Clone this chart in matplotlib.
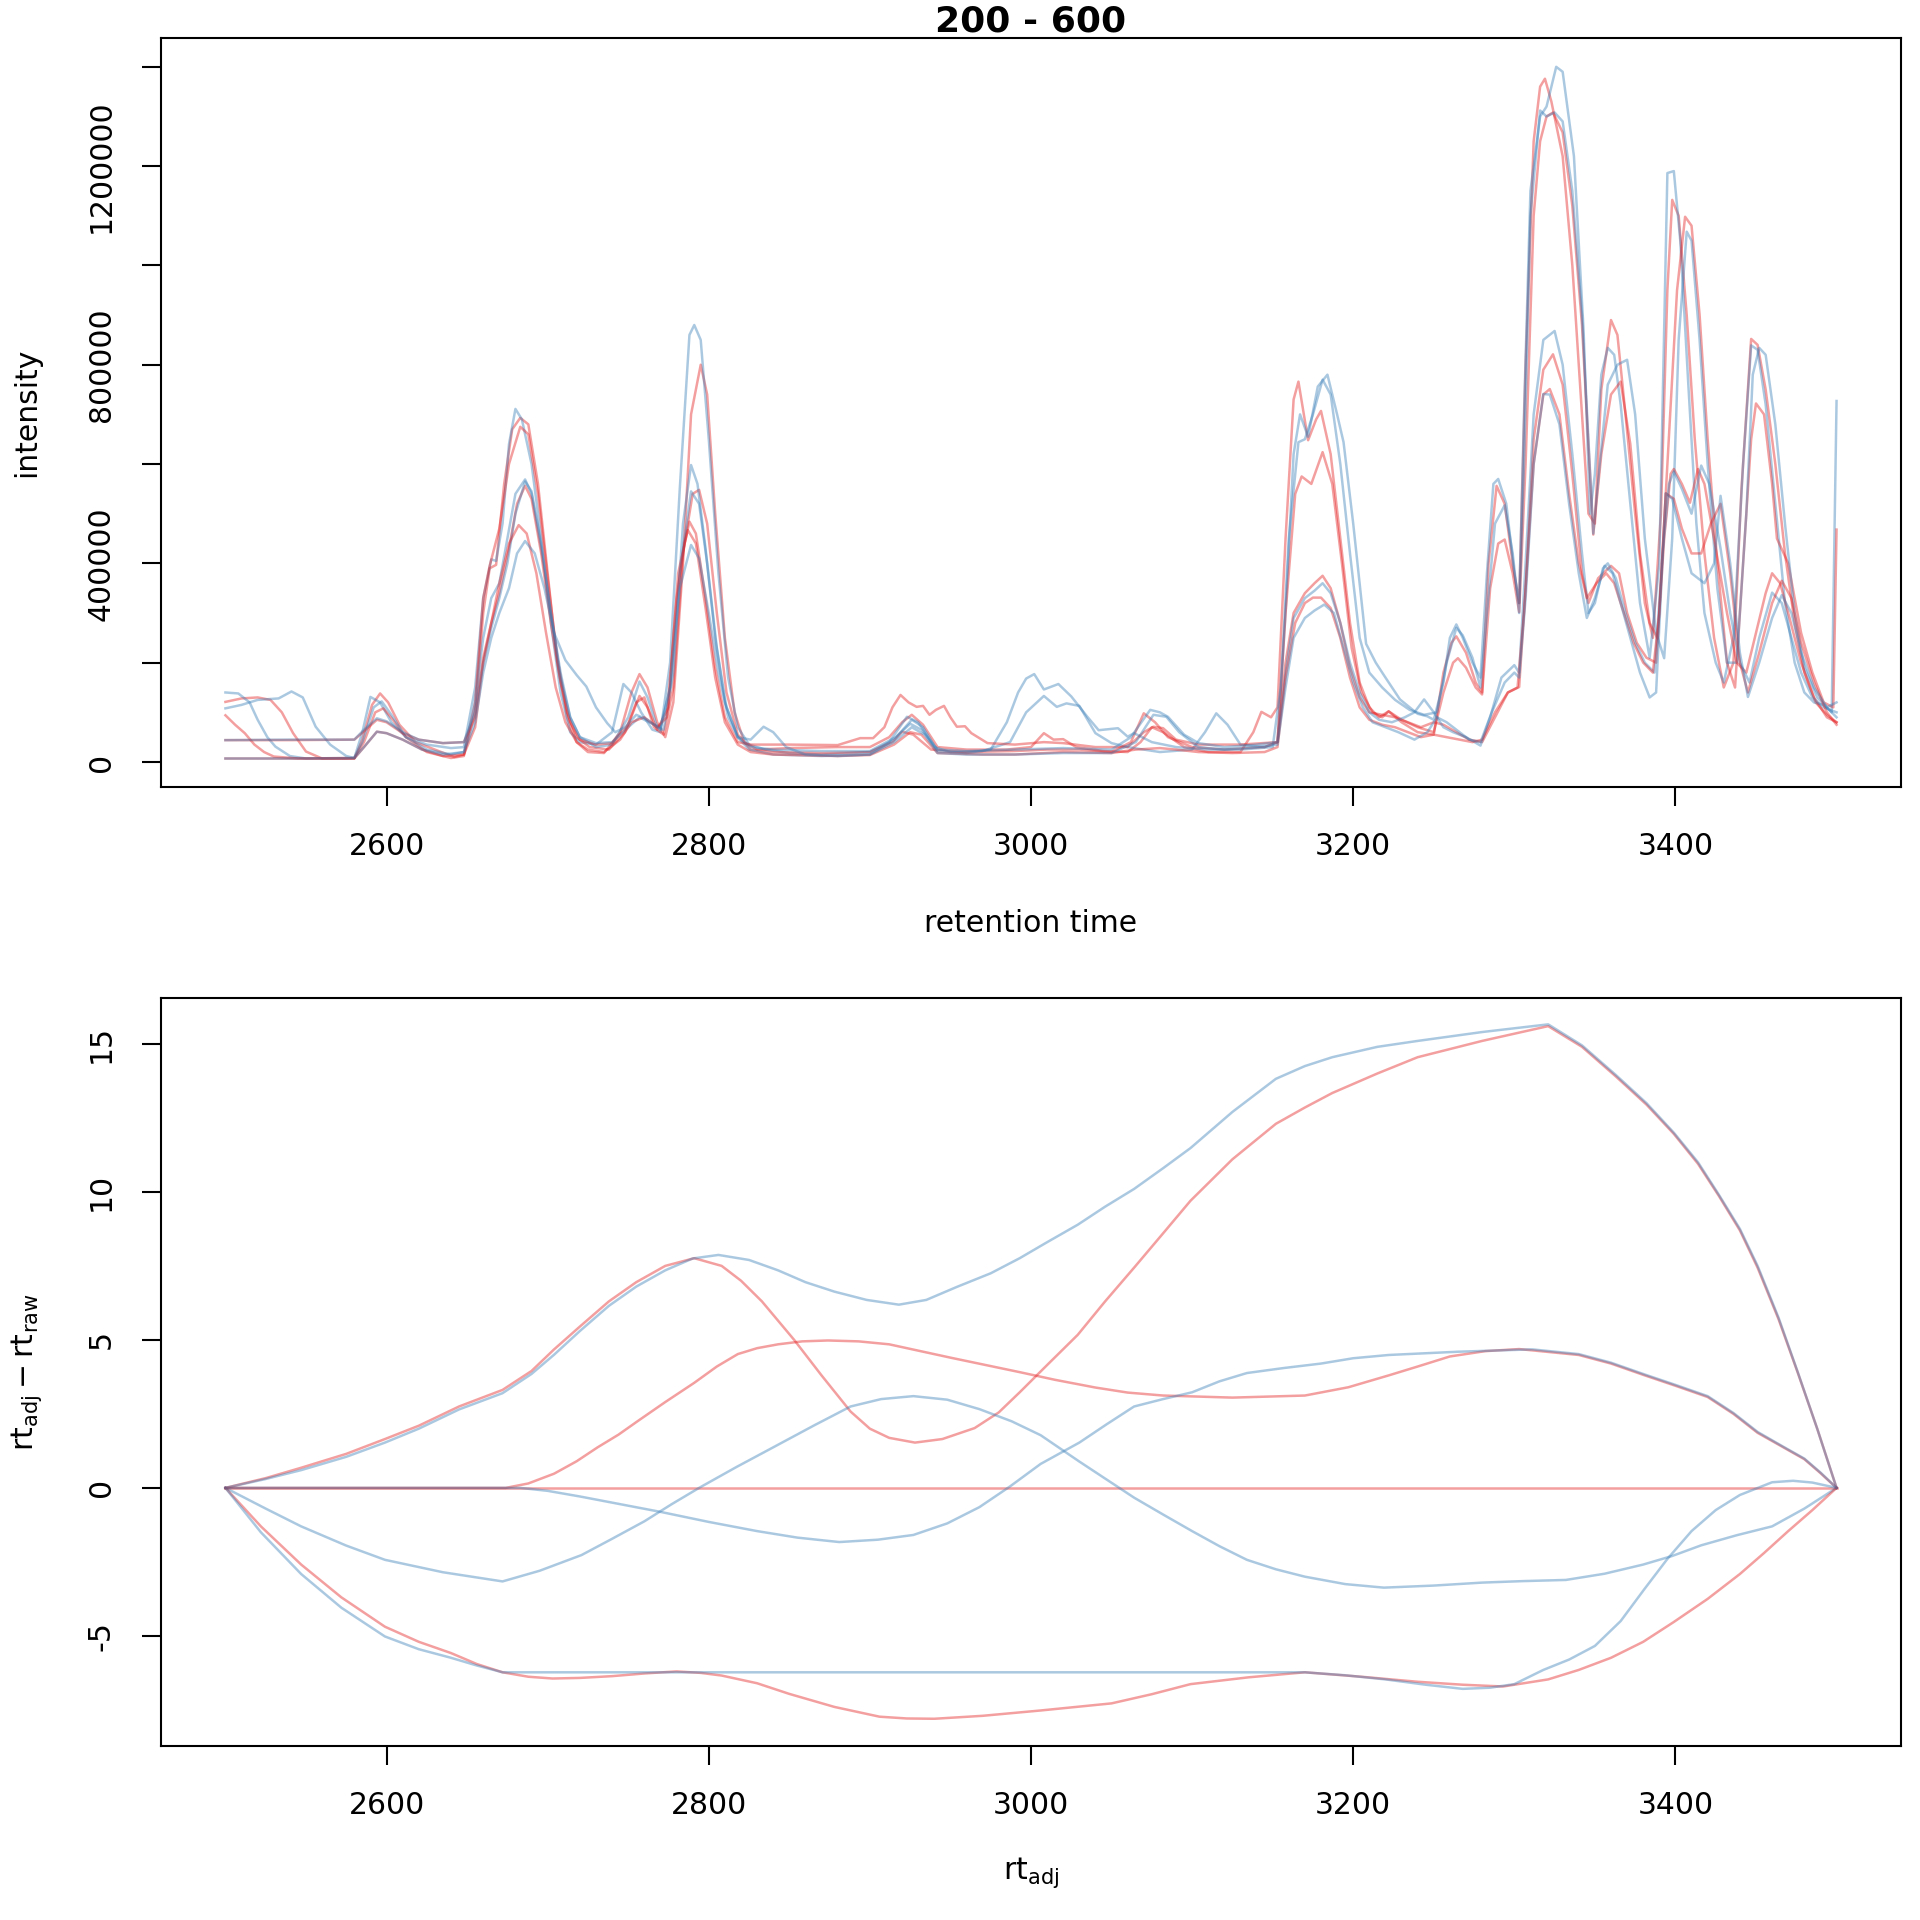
import matplotlib.pyplot as plt
import numpy as np

plt.rcParams['axes.unicode_minus'] = False

RED = '#E41A1C'
BLUE = '#377EB8'
ALPHA = 0.42

# chromatograms: (adjusted retention time, intensity / 1000)
b1 = [(2500, 140), (2508, 138), (2515, 120), (2520, 85), (2526, 50), (2531, 31), (2540, 12), (2550, 7), (2575, 7),
      (2580, 8), (2585, 60), (2590, 131), (2596, 120), (2603, 80), (2612, 50), (2625, 35), (2640, 28), (2648, 30),
      (2655, 150), (2660, 330), (2665, 408), (2668, 405), (2672, 480), (2676, 640), (2680, 711), (2684, 690),
      (2690, 600), (2696, 450), (2702, 280), (2708, 140), (2714, 60), (2720, 40), (2730, 35), (2740, 60), (2747, 157),
      (2752, 140), (2758, 100), (2765, 65), (2770, 60), (2776, 200), (2782, 550), (2788, 860), (2791, 880),
      (2795, 850), (2800, 650), (2806, 380), (2812, 170), (2818, 70), (2825, 35), (2835, 25), (2850, 18), (2870, 15),
      (2900, 20), (2912, 40), (2923, 91), (2930, 80), (2940, 30), (2950, 20), (2970, 22), (2987, 40), (2997, 100),
      (3008, 133), (3016, 111), (3022, 118), (3030, 113), (3040, 58), (3050, 38), (3060, 30), (3080, 20), (3100, 25),
      (3108, 60), (3115, 98), (3122, 75), (3130, 35), (3145, 30), (3153, 40), (3158, 300), (3163, 620), (3167, 700),
      (3172, 655), (3178, 756), (3184, 780), (3190, 700), (3194, 644), (3200, 480), (3208, 238), (3214, 200),
      (3219, 175), (3229, 126), (3240, 97), (3246, 92), (3250, 85), (3256, 160), (3260, 250), (3264, 277), (3268, 250),
      (3274, 200), (3279, 170), (3283, 380), (3287, 560), (3290, 570), (3295, 520), (3300, 380), (3303, 320),
      (3306, 700), (3310, 1150), (3316, 1300), (3320, 1320), (3326, 1400), (3330, 1390), (3337, 1220), (3343, 868),
      (3347, 500), (3350, 580), (3354, 780), (3358, 834), (3362, 820), (3366, 720), (3372, 520), (3378, 320),
      (3384, 210), (3390, 400), (3395, 1186), (3399, 1190), (3403, 1050), (3408, 760), (3413, 480), (3418, 300),
      (3425, 200), (3430, 160), (3436, 250), (3442, 600), (3447, 839), (3451, 830), (3456, 720), (3462, 520),
      (3468, 320), (3474, 200), (3480, 140), (3486, 120), (3492, 115), (3497, 100), (3500, 727)]

b2 = [(2500, 108), (2510, 115), (2520, 125), (2533, 128), (2541, 142), (2548, 130), (2556, 71), (2565, 35),
      (2575, 12), (2580, 8), (2585, 40), (2592, 110), (2597, 122), (2603, 95), (2612, 50), (2625, 25), (2640, 15),
      (2648, 20), (2655, 120), (2660, 250), (2665, 330), (2670, 360), (2675, 450), (2680, 540), (2686, 569),
      (2690, 540), (2696, 430), (2702, 300), (2708, 180), (2714, 90), (2720, 50), (2730, 30), (2740, 35), (2750, 90),
      (2757, 162), (2762, 130), (2768, 70), (2772, 65), (2778, 180), (2784, 480), (2789, 598), (2793, 560),
      (2798, 430), (2804, 250), (2810, 120), (2818, 50), (2825, 25), (2840, 15), (2870, 12), (2900, 15), (2915, 45),
      (2926, 85), (2933, 70), (2942, 22), (2960, 18), (2975, 25), (2985, 80), (2992, 140), (2997, 168), (3002, 177),
      (3008, 146), (3017, 157), (3025, 132), (3035, 91), (3042, 64), (3054, 68), (3060, 51), (3064, 58), (3075, 40),
      (3090, 30), (3110, 25), (3130, 25), (3150, 30), (3155, 150), (3160, 450), (3166, 644), (3170, 650), (3175, 700),
      (3181, 770), (3186, 740), (3192, 600), (3198, 420), (3204, 250), (3210, 180), (3218, 150), (3226, 125),
      (3235, 105), (3244, 95), (3252, 100), (3258, 200), (3264, 270), (3268, 255), (3274, 210), (3279, 150),
      (3283, 300), (3288, 480), (3294, 517), (3299, 420), (3303, 300), (3306, 600), (3310, 1100), (3316, 1312),
      (3320, 1300), (3325, 1308), (3330, 1290), (3336, 1150), (3342, 900), (3346, 650), (3349, 460), (3353, 600),
      (3358, 760), (3364, 800), (3370, 810), (3375, 700), (3381, 450), (3388, 260), (3393, 209), (3398, 450),
      (3402, 850), (3407, 1068), (3410, 1050), (3415, 850), (3420, 600), (3426, 350), (3432, 200), (3438, 200),
      (3444, 500), (3448, 780), (3452, 834), (3456, 820), (3462, 680), (3468, 480), (3474, 300), (3480, 190),
      (3488, 130), (3494, 110), (3500, 120)]

b3 = [(2500, 44), (2540, 45), (2580, 45), (2586, 65), (2594, 88), (2600, 82), (2610, 60), (2620, 45), (2635, 38),
      (2648, 40), (2655, 100), (2660, 200), (2665, 270), (2670, 330), (2675, 400), (2680, 500), (2686, 565),
      (2690, 545), (2696, 440), (2702, 300), (2708, 170), (2714, 90), (2720, 50), (2730, 38), (2740, 40), (2750, 70),
      (2757, 90), (2763, 80), (2770, 70), (2776, 150), (2782, 380), (2789, 545), (2794, 520), (2799, 400), (2805, 230),
      (2811, 110), (2818, 50), (2826, 30), (2840, 25), (2870, 22), (2900, 22), (2916, 50), (2925, 77), (2932, 65),
      (2942, 25), (2960, 22), (2990, 25), (3020, 28), (3050, 25), (3062, 50), (3074, 105), (3080, 100), (3085, 91),
      (3095, 55), (3104, 38), (3120, 30), (3140, 35), (3153, 40), (3158, 180), (3163, 290), (3170, 330), (3176, 345),
      (3181, 360), (3186, 340), (3192, 280), (3198, 200), (3204, 140), (3210, 100), (3216, 85), (3224, 80),
      (3232, 90), (3238, 100), (3244, 126), (3250, 100), (3256, 70), (3262, 60), (3270, 50), (3279, 33), (3285, 90),
      (3292, 170), (3300, 195), (3303, 180), (3307, 400), (3312, 700), (3318, 850), (3325, 868), (3330, 800),
      (3336, 620), (3342, 420), (3346, 300), (3350, 320), (3355, 390), (3358, 400), (3363, 370), (3369, 300),
      (3375, 240), (3381, 200), (3387, 180), (3392, 420), (3396, 560), (3399, 585), (3404, 550), (3410, 500),
      (3416, 597), (3421, 560), (3428, 430), (3434, 300), (3440, 200), (3446, 160), (3452, 250), (3460, 341),
      (3466, 320), (3472, 250), (3478, 180), (3485, 130), (3492, 110), (3500, 100)]

b4 = [(2500, 7), (2540, 7), (2580, 8), (2586, 30), (2594, 61), (2600, 58), (2610, 45), (2622, 25), (2635, 15),
      (2648, 20), (2655, 80), (2660, 180), (2665, 250), (2670, 300), (2676, 350), (2681, 420), (2686, 445),
      (2692, 420), (2698, 350), (2704, 260), (2711, 205), (2718, 175), (2724, 152), (2730, 110), (2737, 78),
      (2742, 60), (2748, 70), (2755, 95), (2762, 85), (2770, 65), (2776, 150), (2782, 350), (2789, 437), (2794, 410),
      (2800, 300), (2806, 180), (2812, 90), (2818, 50), (2826, 45), (2834, 71), (2840, 60), (2848, 30), (2860, 15),
      (2880, 12), (2900, 15), (2915, 40), (2926, 70), (2934, 55), (2942, 18), (2960, 15), (2990, 15), (3020, 18),
      (3050, 18), (3065, 40), (3076, 95), (3084, 91), (3092, 60), (3104, 30), (3120, 25), (3140, 30), (3153, 35),
      (3158, 150), (3163, 250), (3170, 290), (3176, 305), (3182, 317), (3188, 300), (3194, 230), (3200, 160),
      (3206, 110), (3212, 80), (3220, 70), (3228, 60), (3238, 45), (3246, 60), (3252, 90), (3258, 80), (3266, 60),
      (3272, 45), (3279, 40), (3286, 100), (3294, 160), (3300, 180), (3303, 170), (3307, 330), (3312, 600),
      (3318, 741), (3322, 740), (3328, 680), (3334, 520), (3340, 380), (3345, 290), (3350, 330), (3356, 395),
      (3361, 380), (3366, 320), (3372, 250), (3378, 180), (3384, 130), (3388, 140), (3394, 541), (3398, 530),
      (3404, 450), (3410, 380), (3418, 360), (3424, 400), (3428, 536), (3434, 400), (3440, 220), (3445, 131),
      (3452, 200), (3460, 290), (3466, 336), (3472, 300), (3478, 220), (3486, 150), (3494, 110), (3500, 90)]

r1 = [(2500, 121), (2510, 128), (2520, 130), (2528, 125), (2535, 100), (2542, 58), (2550, 21), (2560, 7), (2580, 7),
      (2585, 45), (2591, 115), (2596, 138), (2601, 120), (2608, 75), (2618, 40), (2630, 25), (2642, 10), (2648, 15),
      (2655, 100), (2660, 300), (2664, 390), (2668, 397), (2673, 560), (2678, 670), (2683, 693), (2688, 680),
      (2694, 560), (2700, 380), (2706, 200), (2712, 90), (2718, 40), (2725, 20), (2735, 18), (2745, 60), (2752, 140),
      (2757, 177), (2762, 150), (2768, 80), (2773, 50), (2778, 120), (2784, 400), (2789, 700), (2795, 800),
      (2799, 740), (2804, 500), (2810, 250), (2816, 100), (2822, 40), (2830, 25), (2850, 28), (2880, 30), (2900, 30),
      (2912, 50), (2920, 80), (2926, 95), (2933, 75), (2942, 30), (2960, 25), (2985, 25), (3000, 30), (3008, 58),
      (3014, 45), (3020, 46), (3028, 30), (3045, 22), (3060, 20), (3068, 40), (3075, 70), (3082, 60), (3095, 30),
      (3110, 20), (3130, 20), (3138, 60), (3143, 101), (3149, 90), (3153, 110), (3158, 450), (3163, 730), (3166, 766),
      (3172, 648), (3177, 690), (3180, 707), (3186, 620), (3192, 450), (3198, 280), (3204, 160), (3210, 110),
      (3216, 90), (3222, 102), (3230, 80), (3240, 60), (3250, 55), (3256, 180), (3261, 240), (3264, 253), (3270, 220),
      (3276, 160), (3280, 140), (3284, 400), (3289, 556), (3294, 520), (3299, 400), (3303, 320), (3307, 800),
      (3312, 1250), (3316, 1360), (3319, 1376), (3323, 1330), (3330, 1220), (3336, 1000), (3342, 700), (3346, 500),
      (3350, 480), (3354, 750), (3360, 890), (3364, 860), (3369, 700), (3375, 500), (3381, 320), (3386, 250),
      (3391, 500), (3395, 950), (3398, 1132), (3402, 1100), (3407, 900), (3412, 650), (3418, 420), (3424, 250),
      (3430, 150), (3436, 200), (3441, 550), (3447, 852), (3451, 840), (3456, 750), (3462, 600), (3468, 420),
      (3474, 280), (3480, 180), (3487, 120), (3494, 95), (3500, 80)]

r2 = [(2500, 94), (2506, 75), (2512, 58), (2518, 35), (2524, 20), (2530, 11), (2545, 7), (2580, 8), (2586, 40),
      (2593, 100), (2598, 108), (2604, 85), (2612, 50), (2625, 20), (2640, 8), (2648, 12), (2655, 120), (2660, 330),
      (2664, 395), (2670, 470), (2676, 600), (2683, 675), (2688, 660), (2694, 540), (2700, 370), (2706, 210),
      (2712, 100), (2718, 50), (2726, 30), (2738, 25), (2748, 60), (2755, 120), (2760, 130), (2766, 70), (2772, 55),
      (2778, 150), (2784, 420), (2790, 540), (2794, 548), (2799, 480), (2805, 300), (2811, 140), (2818, 55),
      (2826, 25), (2840, 20), (2870, 18), (2900, 20), (2914, 40), (2920, 61), (2927, 55), (2938, 25), (2960, 20),
      (2990, 22), (3010, 25), (3030, 25), (3050, 20), (3062, 40), (3070, 98), (3077, 80), (3085, 50), (3100, 30),
      (3120, 25), (3145, 30), (3153, 40), (3158, 300), (3164, 540), (3168, 575), (3174, 560), (3181, 624),
      (3187, 560), (3193, 400), (3199, 230), (3205, 140), (3212, 100), (3218, 90), (3222, 102), (3230, 85),
      (3240, 70), (3250, 60), (3256, 140), (3262, 200), (3265, 209), (3270, 190), (3276, 150), (3280, 136),
      (3285, 350), (3290, 440), (3294, 448), (3299, 380), (3303, 302), (3307, 600), (3312, 1100), (3316, 1250),
      (3320, 1300), (3324, 1308), (3330, 1268), (3336, 1120), (3342, 880), (3346, 640), (3349, 458), (3354, 620),
      (3360, 740), (3366, 766), (3372, 640), (3378, 420), (3384, 280), (3389, 248), (3395, 600), (3401, 950),
      (3406, 1098), (3410, 1080), (3415, 900), (3420, 650), (3426, 400), (3432, 200), (3437, 150), (3443, 450),
      (3447, 650), (3450, 722), (3455, 700), (3460, 560), (3463, 450), (3470, 400), (3478, 260), (3485, 180),
      (3492, 120), (3498, 110), (3500, 468)]

r3 = [(2500, 44), (2540, 44), (2580, 45), (2586, 62), (2594, 85), (2600, 80), (2610, 58), (2620, 45), (2635, 38),
      (2648, 40), (2655, 90), (2660, 210), (2665, 280), (2670, 340), (2676, 430), (2681, 520), (2686, 556),
      (2690, 530), (2696, 420), (2702, 280), (2708, 160), (2714, 80), (2720, 45), (2730, 35), (2740, 38), (2750, 75),
      (2757, 133), (2762, 110), (2768, 65), (2775, 110), (2781, 380), (2788, 484), (2792, 460), (2798, 330),
      (2804, 190), (2810, 90), (2818, 40), (2826, 35), (2850, 35), (2880, 34), (2894, 48), (2902, 48), (2909, 70),
      (2914, 110), (2919, 135), (2924, 120), (2929, 111), (2933, 113), (2937, 95), (2941, 105), (2946, 113),
      (2950, 90), (2954, 71), (2959, 72), (2963, 58), (2973, 38), (2990, 35), (3008, 40), (3020, 38), (3040, 30),
      (3060, 30), (3070, 60), (3076, 71), (3082, 68), (3090, 45), (3104, 35), (3130, 35), (3153, 40), (3158, 200),
      (3163, 300), (3170, 340), (3176, 360), (3181, 375), (3186, 350), (3192, 280), (3198, 190), (3204, 130),
      (3210, 100), (3218, 95), (3226, 90), (3234, 80), (3242, 70), (3250, 80), (3256, 75), (3264, 60), (3272, 45),
      (3280, 40), (3288, 90), (3296, 140), (3303, 151), (3307, 350), (3312, 650), (3318, 790), (3324, 821),
      (3330, 760), (3336, 580), (3342, 380), (3346, 320), (3352, 370), (3360, 395), (3365, 380), (3370, 300),
      (3376, 240), (3382, 210), (3388, 200), (3393, 450), (3397, 580), (3399, 590), (3404, 560), (3409, 522),
      (3414, 590), (3418, 560), (3425, 430), (3432, 300), (3438, 200), (3444, 180), (3450, 260), (3456, 340),
      (3460, 380), (3465, 360), (3470, 300), (3478, 200), (3486, 130), (3494, 90), (3500, 80)]

r4 = [(2500, 7), (2540, 7), (2580, 7), (2586, 30), (2594, 61), (2600, 58), (2610, 45), (2622, 25), (2635, 12),
      (2648, 15), (2655, 70), (2660, 200), (2665, 280), (2670, 360), (2676, 440), (2682, 477), (2687, 460),
      (2693, 380), (2699, 260), (2705, 150), (2711, 80), (2718, 40), (2725, 25), (2735, 20), (2745, 45), (2752, 80),
      (2760, 90), (2768, 70), (2774, 90), (2780, 330), (2785, 440), (2787, 467), (2792, 440), (2798, 310),
      (2804, 170), (2810, 80), (2818, 35), (2826, 20), (2840, 15), (2880, 12), (2900, 14), (2915, 35), (2925, 60),
      (2932, 55), (2942, 18), (2970, 15), (2990, 15), (3020, 20), (3050, 18), (3065, 25), (3080, 28), (3090, 25),
      (3104, 20), (3125, 18), (3145, 20), (3153, 30), (3158, 170), (3164, 280), (3170, 320), (3175, 331), (3180, 331),
      (3186, 310), (3192, 250), (3198, 170), (3204, 110), (3210, 85), (3218, 75), (3226, 70), (3234, 60), (3242, 50),
      (3250, 55), (3258, 50), (3266, 45), (3274, 40), (3280, 45), (3288, 100), (3296, 140), (3302, 150), (3306, 300),
      (3312, 600), (3318, 740), (3322, 751), (3328, 700), (3334, 540), (3340, 400), (3345, 330), (3351, 360),
      (3357, 380), (3362, 360), (3368, 300), (3374, 240), (3380, 200), (3386, 180), (3390, 300), (3394, 541),
      (3399, 530), (3404, 470), (3410, 420), (3416, 420), (3422, 480), (3428, 520), (3434, 380), (3440, 200),
      (3445, 140), (3452, 220), (3460, 320), (3466, 365), (3472, 330), (3478, 240), (3486, 160), (3494, 100),
      (3500, 75)]

# retention time adjustment: (adjusted rt, rt_adj - rt_raw)
adj_b1 = [(2500, 0), (2525, 0.3), (2547, 0.6), (2575, 1.05), (2599, 1.53), (2620, 2.0), (2645, 2.65), (2672, 3.2),
          (2690, 3.85), (2704, 4.5), (2720, 5.3), (2738, 6.15), (2755, 6.8), (2773, 7.35), (2790, 7.75), (2806, 7.87),
          (2825, 7.7), (2843, 7.35), (2860, 6.95), (2878, 6.63), (2898, 6.35), (2918, 6.19), (2935, 6.35),
          (2954, 6.79), (2975, 7.25), (2993, 7.76), (3010, 8.3), (3029, 8.89), (3046, 9.5), (3064, 10.1),
          (3082, 10.8), (3099, 11.48), (3125, 12.7), (3152, 13.82), (3170, 14.25), (3187, 14.55), (3215, 14.9),
          (3240, 15.1), (3280, 15.4), (3321, 15.66), (3342, 14.95), (3363, 13.95), (3382, 13.0), (3399, 12.0),
          (3414, 11.0), (3427, 9.9), (3440, 8.75), (3451, 7.5), (3464, 5.75), (3476, 3.9), (3488, 2.0), (3500, 0)]
adj_b2 = [(2500, 0), (2525, -0.7), (2547, -1.3), (2575, -1.95), (2599, -2.43), (2635, -2.85), (2672, -3.16),
          (2695, -2.8), (2721, -2.27), (2740, -1.72), (2760, -1.13), (2777, -0.55), (2794, 0.0), (2817, 0.7),
          (2840, 1.37), (2865, 2.1), (2888, 2.75), (2907, 3.0), (2927, 3.1), (2948, 2.98), (2968, 2.66),
          (2988, 2.25), (3006, 1.78), (3030, 0.89), (3047, 0.28), (3064, -0.33), (3082, -0.9), (3100, -1.46),
          (3117, -1.97), (3134, -2.43), (3152, -2.75), (3170, -3.0), (3195, -3.25), (3219, -3.37), (3250, -3.3),
          (3280, -3.2), (3305, -3.15), (3332, -3.11), (3356, -2.9), (3380, -2.59), (3398, -2.3), (3416, -1.94),
          (3438, -1.6), (3460, -1.3), (3480, -0.7), (3500, 0)]
adj_b3 = [(2500, 0), (2683, 0), (2700, -0.1), (2720, -0.29), (2745, -0.55), (2770, -0.81), (2800, -1.15),
          (2830, -1.46), (2855, -1.68), (2881, -1.83), (2905, -1.75), (2927, -1.59), (2948, -1.2), (2968, -0.65),
          (2987, 0.05), (3006, 0.81), (3030, 1.53), (3047, 2.15), (3064, 2.75), (3082, 3.0), (3100, 3.23),
          (3117, 3.6), (3134, 3.88), (3157, 4.05), (3180, 4.2), (3200, 4.38), (3222, 4.49), (3265, 4.6),
          (3311, 4.68), (3340, 4.52), (3360, 4.23), (3381, 3.83), (3400, 3.48), (3420, 3.1), (3436, 2.53),
          (3451, 1.89), (3466, 1.42), (3480, 0.99), (3490, 0.52), (3500, 0)]
adj_b4 = [(2500, 0), (2522, -1.5), (2547, -2.91), (2572, -4.05), (2599, -5.02), (2620, -5.45), (2640, -5.74),
          (2656, -6.0), (2672, -6.23), (3170, -6.23), (3195, -6.33), (3220, -6.47), (3245, -6.65), (3268, -6.79),
          (3285, -6.75), (3300, -6.63), (3318, -6.15), (3334, -5.8), (3350, -5.34), (3366, -4.5), (3381, -3.4),
          (3395, -2.4), (3410, -1.46), (3425, -0.75), (3440, -0.24), (3460, 0.19), (3473, 0.24), (3485, 0.18),
          (3500, 0)]
adj_r1 = [(2500, 0), (2525, 0.33), (2547, 0.68), (2575, 1.15), (2599, 1.65), (2620, 2.1), (2645, 2.75),
          (2672, 3.31), (2690, 3.95), (2704, 4.68), (2720, 5.45), (2738, 6.3), (2755, 6.95), (2773, 7.5),
          (2791, 7.76), (2808, 7.5), (2820, 7.0), (2833, 6.3), (2853, 5.0), (2870, 3.8), (2888, 2.58), (2900, 2.0),
          (2912, 1.69), (2928, 1.53), (2945, 1.65), (2965, 2.02), (2980, 2.55), (2993, 3.23), (3010, 4.15),
          (3029, 5.17), (3046, 6.3), (3064, 7.44), (3082, 8.6), (3099, 9.7), (3125, 11.1), (3152, 12.3),
          (3170, 12.85), (3187, 13.34), (3215, 14.0), (3240, 14.55), (3280, 15.1), (3321, 15.6), (3342, 14.9),
          (3363, 13.9), (3382, 12.95), (3399, 11.96), (3414, 10.95), (3427, 9.86), (3440, 8.7), (3451, 7.44),
          (3464, 5.7), (3476, 3.88), (3488, 2.0), (3500, 0)]
adj_r2 = [(2500, 0), (3500, 0)]
adj_r3 = [(2500, 0), (2674, 0), (2688, 0.15), (2704, 0.48), (2718, 0.9), (2731, 1.37), (2744, 1.8), (2756, 2.26),
          (2773, 2.9), (2791, 3.55), (2805, 4.1), (2818, 4.52), (2830, 4.72), (2843, 4.85), (2858, 4.95),
          (2874, 4.98), (2893, 4.95), (2912, 4.85), (2950, 4.4), (2993, 3.91), (3015, 3.65), (3040, 3.39),
          (3060, 3.22), (3082, 3.12), (3125, 3.05), (3170, 3.12), (3197, 3.4), (3222, 3.8), (3240, 4.1),
          (3260, 4.44), (3282, 4.62), (3303, 4.69), (3340, 4.49), (3360, 4.2), (3381, 3.8), (3400, 3.45),
          (3420, 3.07), (3436, 2.5), (3451, 1.86), (3466, 1.4), (3480, 0.97), (3490, 0.5), (3500, 0)]
adj_r4 = [(2500, 0), (2522, -1.3), (2547, -2.59), (2572, -3.7), (2599, -4.69), (2620, -5.2), (2640, -5.58),
          (2656, -5.95), (2672, -6.23), (2688, -6.38), (2703, -6.44), (2720, -6.42), (2740, -6.36), (2760, -6.27),
          (2780, -6.2), (2795, -6.25), (2808, -6.34), (2830, -6.6), (2850, -6.96), (2878, -7.4), (2906, -7.73),
          (2923, -7.79), (2940, -7.8), (2970, -7.7), (3006, -7.52), (3050, -7.28), (3075, -6.97), (3099, -6.63),
          (3135, -6.4), (3170, -6.23), (3205, -6.38), (3240, -6.55), (3268, -6.65), (3293, -6.71), (3321, -6.47),
          (3340, -6.15), (3360, -5.74), (3380, -5.2), (3399, -4.53), (3420, -3.75), (3440, -2.91), (3455, -2.2),
          (3470, -1.46), (3485, -0.75), (3500, 0)]

chromatograms = [(r1, RED), (b1, BLUE), (r2, RED), (b2, BLUE), (r3, RED), (b3, BLUE), (r4, RED), (b4, BLUE)]
adjustments = [(adj_r1, RED), (adj_b1, BLUE), (adj_r2, RED), (adj_b2, BLUE), (adj_r3, RED), (adj_b3, BLUE),
               (adj_r4, RED), (adj_b4, BLUE)]


def r_style(ax):
    for s in ax.spines.values():
        s.set_linewidth(1.5)
    ax.tick_params(direction='out', length=13.7, width=1.5, labelsize=21.5, pad=19)
    ax.set_xlim(2460, 3540)
    ax.set_xticks([2600, 2800, 3000, 3200, 3400])
    for lab in ax.get_yticklabels():
        lab.set_rotation(90)
        lab.set_va('center')


fig = plt.figure(figsize=(19.2, 19.2), dpi=100)
ax1 = fig.add_axes([0.08385, 0.5901, 0.90625, 0.3901])
ax2 = fig.add_axes([0.08385, 0.090625, 0.90625, 0.38958])

for pts, col in chromatograms:
    x, y = zip(*pts)
    ax1.plot(x, np.array(y) * 1000, color=col, alpha=ALPHA, lw=1.8)
ax1.set_ylim(-50400, 1458000)
yt = np.arange(0, 1400001, 200000)
ax1.set_yticks(yt)
ax1.set_yticklabels([str(v) if v % 400000 == 0 else '' for v in yt])
r_style(ax1)
ax1.set_title('200 - 600', fontsize=26, fontweight='bold', pad=3.6)
ax1.set_xlabel('retention time', fontsize=21.5)
ax1.xaxis.set_label_coords(0.5, -0.1822)
ax1.xaxis.label.set_va('center')
ax1.set_ylabel('intensity', fontsize=21.5)
ax1.yaxis.set_label_coords(-0.077, 0.5)
ax1.yaxis.label.set_va('center')

for pts, col in adjustments:
    x, y = zip(*pts)
    ax2.plot(x, y, color=col, alpha=ALPHA, lw=1.8)
ax2.set_ylim(-8.72, 16.55)
ax2.set_yticks([-5, 0, 5, 10, 15])
r_style(ax2)
ax2.set_xlabel(r'$\mathregular{rt_{adj}}$', fontsize=21.5)
ax2.xaxis.set_label_coords(0.5, -0.1698)
ax2.xaxis.label.set_va('center')
ax2.set_ylabel(r'$\mathregular{rt_{adj} - rt_{raw}}$', fontsize=21.5)
ax2.yaxis.set_label_coords(-0.077, 0.5)
ax2.yaxis.label.set_va('center')

plt.savefig('out.png', dpi=100)
